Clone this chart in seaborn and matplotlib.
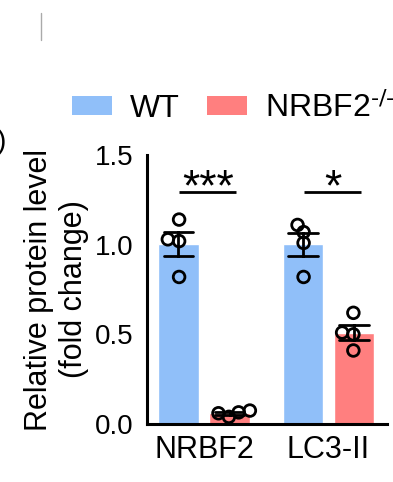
import numpy as np
import pandas as pd
import matplotlib
matplotlib.use("Agg")
import matplotlib.pyplot as plt
from matplotlib.patches import Patch
from matplotlib.lines import Line2D
import seaborn as sns

# data
proteins = ["NRBF2", "LC3-II"]
genotypes = ["WT", "NRBF2$^{\\text{-/-}}$"]
wt_nrbf2 = [1.14, 1.03, 1.02, 0.82]
ko_nrbf2 = [0.075, 0.065, 0.06, 0.04]
wt_lc3 = [1.11, 1.07, 1.01, 0.82]
ko_lc3 = [0.62, 0.51, 0.50, 0.41]
stars = ["***", "*"]
colors = ["#90BFF9", "#FF7F7F"]

rows = []
for prot, wt, ko in zip(proteins, [wt_nrbf2, wt_lc3], [ko_nrbf2, ko_lc3]):
    for v in wt:
        rows.append((prot, genotypes[0], v))
    for v in ko:
        rows.append((prot, genotypes[1], v))
df = pd.DataFrame(rows, columns=["protein", "genotype", "value"])

sns.set_style("white")
plt.rcParams["font.family"] = ["Liberation Sans", "DejaVu Sans"]
plt.rcParams["mathtext.default"] = "regular"
for key in ["text.color", "axes.labelcolor", "xtick.color", "ytick.color",
            "axes.edgecolor"]:
    plt.rcParams[key] = "black"

fig = plt.figure(figsize=(3.93, 4.82), dpi=100)
ax = fig.add_axes([0.374, 0.1203, 0.6107, 0.5581])

sns.barplot(data=df, x="protein", y="value", hue="genotype", palette=colors,
            saturation=1, errorbar="se", capsize=0.48, width=0.82, gap=0.2,
            err_kws={"color": "black", "linewidth": 2}, legend=False, ax=ax)
n_bar_colls = len(ax.collections)
# swarm laid out a bit tighter than the drawn circles, like Prism's scatter
sns.swarmplot(data=df, x="protein", y="value", hue="genotype", dodge=True,
              palette=["black", "black"], size=6, linewidth=1.6,
              edgecolor="black", legend=False, ax=ax)
fig.canvas.draw()
for coll in ax.collections[n_bar_colls:]:
    if "draw" in coll.__dict__:
        del coll.draw
    coll.set_sizes([8.4 ** 2])
    coll.set_linewidth(2.0)
for coll in ax.collections:
    coll.set_facecolor("none")
    coll.set_edgecolor("black")

# significance brackets
for i, s in enumerate(stars):
    ax.plot([i - 0.2, i + 0.26], [1.294, 1.294], color="black", lw=2,
            solid_capstyle="butt")
    ax.text(i + 0.035, 1.245, s, ha="center", va="baseline", fontsize=32)

ax.set_ylim(0, 1.5)
ax.set_xlim(-0.458, 1.47)
ax.set_yticks([0, 0.5, 1.0, 1.5])
ax.set_xlabel("")
ax.set_ylabel("Relative protein level\n(fold change)", fontsize=22,
              labelpad=4, linespacing=1.2)
sns.despine(ax=ax)
ax.spines["left"].set_linewidth(2.2)
ax.spines["bottom"].set_linewidth(2.2)
ax.tick_params(axis="y", length=7, width=2.2, labelsize=20, pad=3)
ax.tick_params(axis="x", length=0, labelsize=22, pad=8)

handles = [Patch(facecolor=c, edgecolor="none") for c in colors]
fig.legend(handles, genotypes, loc="upper left",
           bbox_to_anchor=(72 / 393, 1 - 92 / 482), ncol=2, frameon=False,
           fontsize=23, handlelength=1.25, handleheight=0.56,
           handletextpad=0.56, columnspacing=0.85, borderpad=0,
           borderaxespad=0)

# bits of neighbouring panels at the edges
fig.add_artist(Line2D([41 / 393, 41 / 393], [1 - 13 / 482, 1 - 40 / 482],
                      color="#aaaaaa", lw=1))
fig.text(-0.008, 1 - 142 / 482, ")", fontsize=20, va="center", ha="left")

fig.savefig("out.png", dpi=100)
